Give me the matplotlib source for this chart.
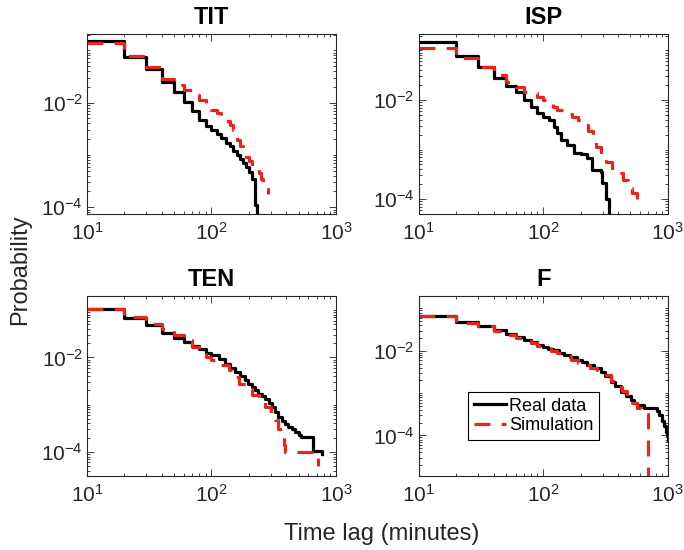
import numpy as np
import matplotlib.pyplot as plt
from matplotlib.ticker import LogLocator, NullFormatter

plt.rcParams['font.family'] = ['Liberation Sans', 'DejaVu Sans']
plt.rcParams['mathtext.default'] = 'regular'

# TIT
tit_real_x = [10, 20, 30, 40, 50, 60, 70, 80, 90, 100, 110, 120, 130, 140, 150, 160, 170, 180, 190, 200, 210, 222, 232]
tit_real_p = [0.153, 0.076, 0.0435, 0.0252, 0.016, 0.0102, 0.0069, 0.0047, 0.0036, 0.003, 0.0025, 0.0021, 0.0017,
              0.00145, 0.0012, 0.001, 0.00083, 0.00069, 0.00058, 0.00048, 0.00034, 0.00011, 1e-6]
tit_sim_x = [10, 20, 30, 40, 50, 60, 70, 80, 90, 100, 110, 120, 130, 140, 150, 160, 170, 180, 190, 200, 210, 220,
             240, 250, 260, 270, 282]
tit_sim_p = [0.137, 0.079, 0.049, 0.028, 0.022, 0.0175, 0.014, 0.011, 0.0085, 0.0072, 0.0063, 0.0055, 0.0045,
             0.0037, 0.003, 0.0019, 0.0015, 0.0011, 0.0009, 0.00075, 0.00062, 0.00055, 0.00045, 0.00035, 0.00028,
             0.00022, 0.00018]

# ISP
isp_real_x = [10, 20, 30, 40, 50, 60, 70, 80, 90, 100, 111, 122, 130, 138, 156, 177, 200, 226, 248, 289, 298, 317, 337]
isp_real_p = [0.147, 0.0785, 0.047, 0.028, 0.019, 0.0147, 0.01, 0.0073, 0.0054, 0.0046, 0.0039, 0.0029, 0.0022,
              0.00156, 0.00123, 0.00086, 0.00081, 0.00066, 0.00039, 0.00036, 0.00021, 0.0001, 1e-6]
isp_sim_x = [10, 20, 30, 40, 50, 60, 70, 80, 90, 100, 110, 120, 130, 150, 170, 190, 210, 230, 250, 265, 290, 320,
             360, 400, 440, 480, 520, 567]
isp_sim_p = [0.111, 0.0695, 0.047, 0.032, 0.0234, 0.018, 0.0147, 0.0136, 0.0115, 0.01, 0.0085, 0.0072, 0.0063,
             0.0052, 0.0045, 0.0039, 0.0031, 0.0024, 0.0016, 0.00114, 0.00075, 0.00055, 0.00042, 0.00034, 0.00024,
             0.00017, 0.00013, 0.0001]

# TEN
ten_real_x = [10, 20, 30, 40, 50, 60, 70, 80, 90, 100, 114, 129, 142, 155, 170, 186, 198, 211, 225, 238, 255, 270,
              288, 305, 325, 345, 370, 391, 415, 442, 470, 500, 520, 659, 769]
ten_real_p = [0.106, 0.0687, 0.0475, 0.0331, 0.026, 0.021, 0.0173, 0.0147, 0.0125, 0.011, 0.0094, 0.0073, 0.006,
              0.0049, 0.004, 0.0033, 0.0028, 0.00236, 0.002, 0.0017, 0.0015, 0.00133, 0.0011, 0.00089, 0.0007,
              0.00055, 0.00045, 0.00039, 0.00034, 0.00031, 0.00026, 0.00023, 0.000206, 0.000103, 0.00009]
ten_sim_x = [10, 20, 30, 40, 50, 60, 70, 80, 90, 100, 115, 137, 150, 165, 190, 211, 240, 270, 300, 324, 345, 379,
             391, 720]
ten_sim_p = [0.106, 0.072, 0.051, 0.039, 0.029, 0.0229, 0.0165, 0.0134, 0.0101, 0.0086, 0.0068, 0.0053, 0.0038,
             0.0028, 0.0021, 0.00157, 0.0012, 0.00089, 0.00065, 0.00047, 0.00031, 0.000137, 0.0001, 0.00005]

# F
f_real_x = [10, 20, 30, 40, 50, 60, 70, 80, 90, 100, 110, 120, 135, 147, 165, 188, 205, 226, 255, 289, 315, 348,
            380, 419, 460, 504, 535, 570, 646, 826, 860, 900, 935, 965, 990, 1000]
f_real_p = [0.0675, 0.0476, 0.039, 0.0303, 0.0247, 0.0207, 0.0182, 0.016, 0.0139, 0.012, 0.011, 0.0102, 0.0091,
            0.008, 0.0071, 0.0061, 0.0054, 0.0047, 0.004, 0.0032, 0.0026, 0.00187, 0.00145, 0.00109, 0.00087,
            0.00069, 0.0006, 0.00052, 0.00044, 0.00038, 0.0003, 0.00022, 0.00017, 0.00012, 0.0001, 0.00008]
f_sim_x = [10, 20, 30, 40, 50, 60, 70, 80, 90, 100, 115, 130, 145, 166, 190, 215, 240, 270, 307, 350, 394, 430,
           474, 520, 570, 607, 695]
f_sim_p = [0.0675, 0.045, 0.038, 0.029, 0.024, 0.0198, 0.0175, 0.0152, 0.0132, 0.0115, 0.0098, 0.0088, 0.0075,
           0.0061, 0.0052, 0.0045, 0.0039, 0.0032, 0.0027, 0.0019, 0.00143, 0.0011, 0.00083, 0.0006, 0.00044,
           0.00033, 1e-6]

titles = ['TIT', 'ISP', 'TEN', 'F']
reals = [(tit_real_x, tit_real_p), (isp_real_x, isp_real_p), (ten_real_x, ten_real_p), (f_real_x, f_real_p)]
sims = [(tit_sim_x, tit_sim_p), (isp_sim_x, isp_sim_p), (ten_sim_x, ten_sim_p), (f_sim_x, f_sim_p)]
ylims = [(7.4e-5, 0.206), (5.0e-5, 0.215), (3.1e-5, 0.198), (1.1e-5, 0.197)]
positions = [[0.1272, 0.6109, 0.3640, 0.3273], [0.6121, 0.6109, 0.3640, 0.3273],
             [0.1272, 0.1345, 0.3640, 0.3273], [0.6121, 0.1345, 0.3640, 0.3273]]

red = '#e0281f'
dark = '#262626'

fig = plt.figure(figsize=(6.84, 5.5), dpi=100)
for i in range(4):
    ax = fig.add_axes(positions[i])
    rx, rp = reals[i]
    sx, sp = sims[i]
    ax.plot(rx, rp, color='black', lw=2.3, drawstyle='steps-post', label='Real data')
    ax.plot(sx, sp, color=red, lw=2.3, ls=(0, (5, 3.5)), drawstyle='steps-post', label='Simulation')
    ax.set_xscale('log')
    ax.set_yscale('log')
    ax.set_xlim(10, 1000)
    ax.set_ylim(*ylims[i])
    ax.set_yticks([1e-4, 1e-2])
    ax.yaxis.set_minor_locator(LogLocator(base=10, subs=np.arange(1, 10), numticks=20))
    ax.yaxis.set_minor_formatter(NullFormatter())
    ax.xaxis.set_minor_locator(LogLocator(base=10, subs=np.arange(2, 10), numticks=20))
    ax.xaxis.set_minor_formatter(NullFormatter())
    ax.tick_params(which='both', direction='in', top=True, right=True, colors=dark, labelsize=15, width=0.6)
    ax.tick_params(which='major', length=5)
    ax.tick_params(axis='y', which='major', pad=3)
    ax.tick_params(axis='x', which='major', pad=6)
    ax.tick_params(which='minor', length=2.5)
    for s in ax.spines.values():
        s.set_color(dark)
        s.set_linewidth(0.8)
    ax.set_title(titles[i], fontsize=17, fontweight='bold', pad=7, color='black')
    if titles[i] == 'F':
        leg = ax.legend(loc='upper left', bbox_to_anchor=(0.2, 0.465), fontsize=13, frameon=True,
                        fancybox=False, framealpha=1, edgecolor='black', handlelength=1.8,
                        handletextpad=0.15, borderpad=0.3, labelspacing=0.15, borderaxespad=0)
        leg.get_frame().set_linewidth(0.8)

fig.text(0.029, 0.509, 'Probability', rotation=90, ha='center', va='center', fontsize=17, color=dark)
fig.text(0.558, 0.029, 'Time lag (minutes)', ha='center', va='center', fontsize=17, color=dark)

fig.savefig('out.png', dpi=100)
